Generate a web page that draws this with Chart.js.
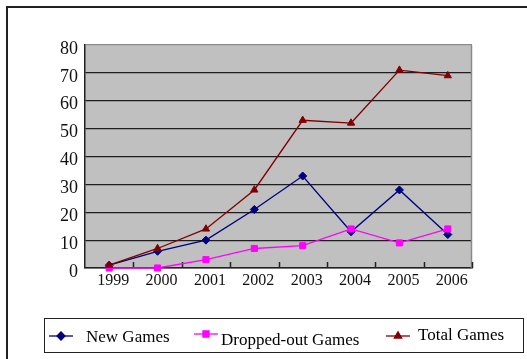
<!DOCTYPE html>
<html>
<head>
<meta charset="utf-8">
<script src="https://cdn.jsdelivr.net/npm/chart.js"></script>
<style>
  body { margin: 0; background: #fff; }
  canvas { display: block; }
</style>
</head>
<body>
<canvas id="gamesChart" width="527" height="359"></canvas>
<script>
const years = ['1999', '2000', '2001', '2002', '2003', '2004', '2005', '2006'];
const newGames = [1, 6, 10, 21, 33, 13, 28, 12];
const droppedGames = [0, 0, 3, 7, 8, 14, 9, 14];
const totalGames = [1, 7, 14, 28, 53, 52, 71, 69];
const yMin = 0, yMax = 80, yStep = 10;

// where each legend entry sits inside the bottom box
const legendSlots = [
  {x: 49, my: 336, tx: 86, ty: 342},
  {x: 194, my: 334, tx: 221, ty: 345},
  {x: 386, my: 336, tx: 418, ty: 340}
];

const serif = '"Liberation Serif", "Times New Roman", serif';

const framePlugin = {
  id: 'frame',
  beforeDraw(chart) {
    const {ctx, chartArea: a} = chart;
    ctx.save();
    ctx.fillStyle = '#fff';
    ctx.fillRect(0, 0, chart.width, chart.height);
    // outer frame, only left and top edges are inside the canvas
    ctx.strokeStyle = '#222';
    ctx.lineWidth = 2;
    ctx.beginPath();
    ctx.moveTo(7, chart.height);
    ctx.lineTo(7, 7);
    ctx.lineTo(chart.width, 7);
    ctx.stroke();
    // plot background
    ctx.fillStyle = '#c0c0c0';
    ctx.fillRect(a.left, a.top, a.width, a.height);
    ctx.restore();
  },
  beforeDatasetsDraw(chart) {
    const {ctx, chartArea: a, scales: {x}} = chart;
    ctx.save();
    ctx.strokeStyle = '#8a8a8a';
    ctx.lineWidth = 1.5;
    ctx.beginPath();
    ctx.moveTo(a.right - 0.5, a.top);
    ctx.lineTo(a.right - 0.5, a.bottom);
    ctx.stroke();
    // short category ticks standing on the x axis
    ctx.strokeStyle = '#222';
    ctx.lineWidth = 1.5;
    ctx.beginPath();
    for (let i = 1; i <= years.length; i++) {
      const px = Math.round(x.getPixelForValue(i - 0.5)) + 0.5;
      ctx.moveTo(px, a.bottom);
      ctx.lineTo(px, a.bottom - 6);
    }
    ctx.stroke();
    ctx.restore();
  },
  afterDraw(chart) {
    const {ctx} = chart;
    ctx.save();
    ctx.strokeStyle = '#222';
    ctx.lineWidth = 1;
    ctx.strokeRect(44.5, 318.5, 479, 34);
    ctx.font = '17px ' + serif;
    ctx.textBaseline = 'alphabetic';
    chart.data.datasets.forEach((ds, i) => {
      const s = legendSlots[i];
      ctx.strokeStyle = ds.borderColor;
      ctx.lineWidth = 1.3;
      ctx.beginPath();
      ctx.moveTo(s.x, s.my);
      ctx.lineTo(s.x + 24, s.my);
      ctx.stroke();
      ctx.fillStyle = ds.pointBackgroundColor;
      ctx.strokeStyle = ds.borderColor;
      Chart.helpers.drawPoint(ctx, {
        pointStyle: ds.pointStyle, radius: ds.pointRadius, rotation: 0, borderWidth: 1
      }, s.x + 12, s.my);
      ctx.fillStyle = '#000';
      ctx.fillText(ds.label, s.tx, s.ty);
    });
    ctx.restore();
  }
};

new Chart(document.getElementById('gamesChart'), {
  type: 'line',
  data: {
    labels: years,
    datasets: [
      {
        label: 'New Games',
        data: newGames,
        borderColor: '#000080',
        pointBackgroundColor: '#000080',
        pointStyle: 'rectRot',
        pointRadius: 4,
        order: 2
      },
      {
        label: 'Dropped-out Games',
        data: droppedGames,
        borderColor: '#ff00ff',
        pointBackgroundColor: '#ff00ff',
        pointStyle: 'rect',
        pointRadius: 4.3,
        order: 1
      },
      {
        label: 'Total Games',
        data: totalGames,
        borderColor: '#800000',
        pointBackgroundColor: '#800000',
        pointStyle: 'triangle',
        pointRadius: 4.2,
        order: 0
      }
    ]
  },
  options: {
    responsive: false,
    devicePixelRatio: 1,
    animation: false,
    layout: {padding: {left: 45, right: 55, top: 45, bottom: 61}},
    datasets: {line: {clip: false}},
    elements: {
      line: {borderWidth: 1.3, tension: 0},
      point: {borderWidth: 1, hoverRadius: 4}
    },
    plugins: {
      legend: {display: false},
      tooltip: {enabled: false}
    },
    scales: {
      x: {
        offset: true,
        grid: {display: true, drawOnChartArea: false, drawTicks: false, offset: true},
        border: {display: true, color: '#222', width: 1.5},
        ticks: {
          padding: 3,
          labelOffset: 4,
          maxRotation: 0,
          color: '#111',
          font: {family: serif, size: 16}
        },
        afterFit(scale) { scale.height = 30; }
      },
      y: {
        min: yMin,
        max: yMax,
        grid: {
          drawTicks: false,
          color: c => (c.tick && c.tick.value === yMax) ? '#8a8a8a' : '#1e1e1e',
          lineWidth: 1.2
        },
        border: {display: true, color: '#222', width: 1.5},
        ticks: {
          stepSize: yStep,
          padding: 7,
          labelOffset: 4,
          color: '#111',
          font: {family: serif, size: 18}
        },
        afterFit(scale) { scale.width = 40; }
      }
    }
  },
  plugins: [framePlugin]
});
</script>
</body>
</html>
